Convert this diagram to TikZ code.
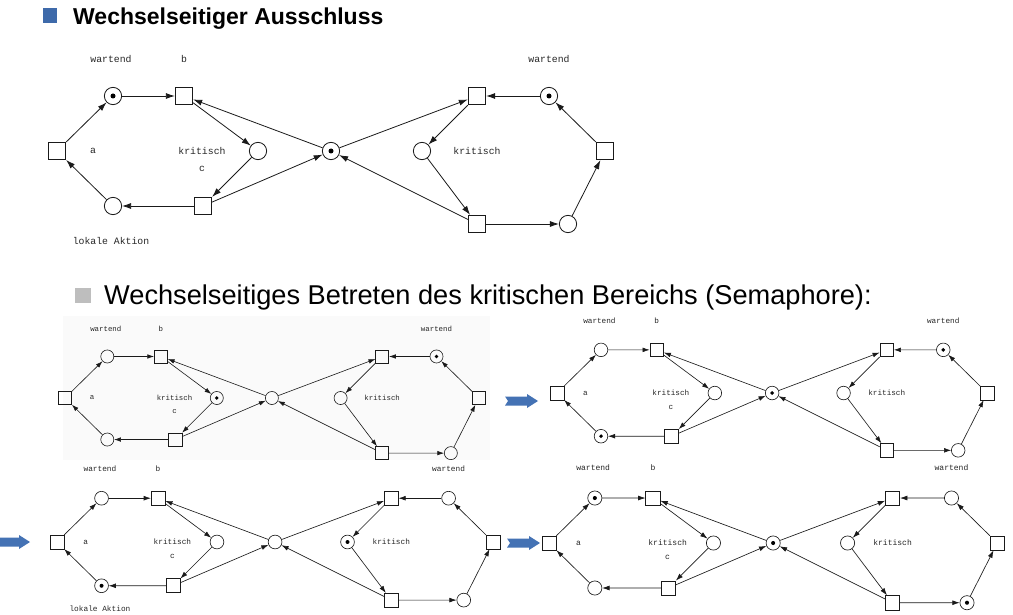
\documentclass[tikz,border=0pt]{standalone}
\usepackage{fontspec}
\setmainfont{Liberation Sans}
\setmonofont{Liberation Mono}
\usetikzlibrary{arrows.meta}
\definecolor{bulletblue}{HTML}{3E6AAA}
\definecolor{arrowblue}{HTML}{4472B4}
\definecolor{bulletgray}{HTML}{BEBEBE}
\definecolor{netline}{HTML}{1A1A1A}
\tikzset{
  place/.style={circle, draw=netline, minimum size=17.3pt, inner sep=0pt},
  trans/.style={rectangle, draw=netline, minimum size=17.5pt, inner sep=0pt},
  token/.style={circle, fill=black, minimum size=5pt, inner sep=0pt},
  lbl/.style={font=\fontsize{9.8}{10}\selectfont\ttfamily, inner sep=0pt, text=black!85},
  title/.style={anchor=base west, inner sep=0pt},
}
% #1 prefix, #2 x shift, #3 y shift, #4 scale, #5 token places, #6 extra
\newcommand\petrinet[6]{%
\begin{scope}[shift={(#2,#3)}, scale=#4, transform shape,
  arc/.style={draw=netline, line width={0.8pt*#4}, -{Latex[length=9pt,width=6pt,scale=#4]}},
  every node/.append style={line width={0.8pt*#4}}]
  \node[trans] (#1-a) at (57,151) {};
  \node[place] (#1-w) at (113,96) {};
  \node[trans] (#1-b) at (184,96) {};
  \node[place] (#1-k) at (258,151) {};
  \node[place] (#1-s) at (331,151) {};
  \node[trans] (#1-c) at (203,206) {};
  \node[place] (#1-l) at (113,206) {};
  \node[trans] (#1-TR) at (477,96) {};
  \node[place] (#1-WR) at (549,96) {};
  \node[trans] (#1-R) at (605,151) {};
  \node[place] (#1-KR) at (422,151) {};
  \node[trans] (#1-BT) at (477,224) {};
  \node[place] (#1-BP) at (568,224) {};
  \node[lbl] (#1-lw) at (111,59) {wartend};
  \node[lbl] (#1-lb) at (184,59) {b};
  \node[lbl] (#1-la) at (93,151) {a};
  \node[lbl] (#1-lk) at (202,151) {kritisch};
  \node[lbl] (#1-lc) at (202,169) {c};
  \node[lbl] (#1-lwr) at (549,59) {wartend};
  \node[lbl] (#1-lkr) at (477,151) {kritisch};
  \draw[arc] (#1-a) -- (#1-w);
  \draw[arc] (#1-w) -- (#1-b);
  \draw[arc] (#1-b) -- (#1-k);
  \draw[arc] (#1-k) -- (#1-c);
  \draw[arc] (#1-c) -- (#1-l);
  \draw[arc] (#1-l) -- (#1-a);
  \draw[arc] (#1-s) -- (#1-b);
  \draw[arc] (#1-c) -- (#1-s);
  \draw[arc] (#1-s) -- (#1-TR);
  \draw[arc] (#1-WR) -- (#1-TR);
  \draw[arc] (#1-TR) -- (#1-KR);
  \draw[arc] (#1-KR) -- (#1-BT);
  \draw[arc] (#1-BT) -- (#1-s);
  \draw[arc] (#1-BT) -- (#1-BP);
  \draw[arc] (#1-BP) -- (#1-R);
  \draw[arc] (#1-R) -- (#1-WR);
  \foreach \t in {#5} {\node[token] (#1-tok\t) at (#1-\t) {};}
  #6
\end{scope}}
\newcommand\bluearrow[2]{%
  \fill[arrowblue] (#1,#2) ++(0,-4.5) -- ++(22,0) -- ++(0,-2.5) -- ++(11,7)
    -- ++(-11,7) -- ++(0,-2.5) -- ++(-22,0) -- ++(3,-4.5) -- cycle;}
\begin{document}
\begin{tikzpicture}[x=1pt, y=-1pt]
\useasboundingbox (0,0) rectangle (1013,615);
\clip (0,0) rectangle (1013,615);
% titles
\fill[bulletblue] (43,8) rectangle (57,23);
\node[title, font=\fontsize{23}{27}\selectfont\bfseries] (t1) at (73,25) {Wechselseitiger Ausschluss};
\fill[bulletgray] (75,288) rectangle (91,303);
\node[title, font=\fontsize{27.2}{31}\selectfont] (t2) at (104,304) {Wechselseitiges Betreten des kritischen Bereichs (Semaphore):};
% main net
\petrinet{m}{0}{0}{1}{w,s,WR}{\node[lbl] (m-ll) at (111,241) {lokale Aktion};}
% sub nets
\fill[gray!4] (63,316) rectangle (490,460);
\petrinet{p}{22}{284}{0.755}{k,WR}{}
\petrinet{q}{512.3}{274.5}{0.785}{s,l,WR}{}
\petrinet{r}{11.6}{421.8}{0.796}{l,KR}{\node[lbl] (r-ll) at (111,235) {lokale Aktion};}
\petrinet{u}{502.4}{419.5}{0.818}{w,s,BP}{}
% blue arrows
\bluearrow{505}{401}
\bluearrow{-3}{542}
\bluearrow{507}{543}
\end{tikzpicture}
\end{document}
